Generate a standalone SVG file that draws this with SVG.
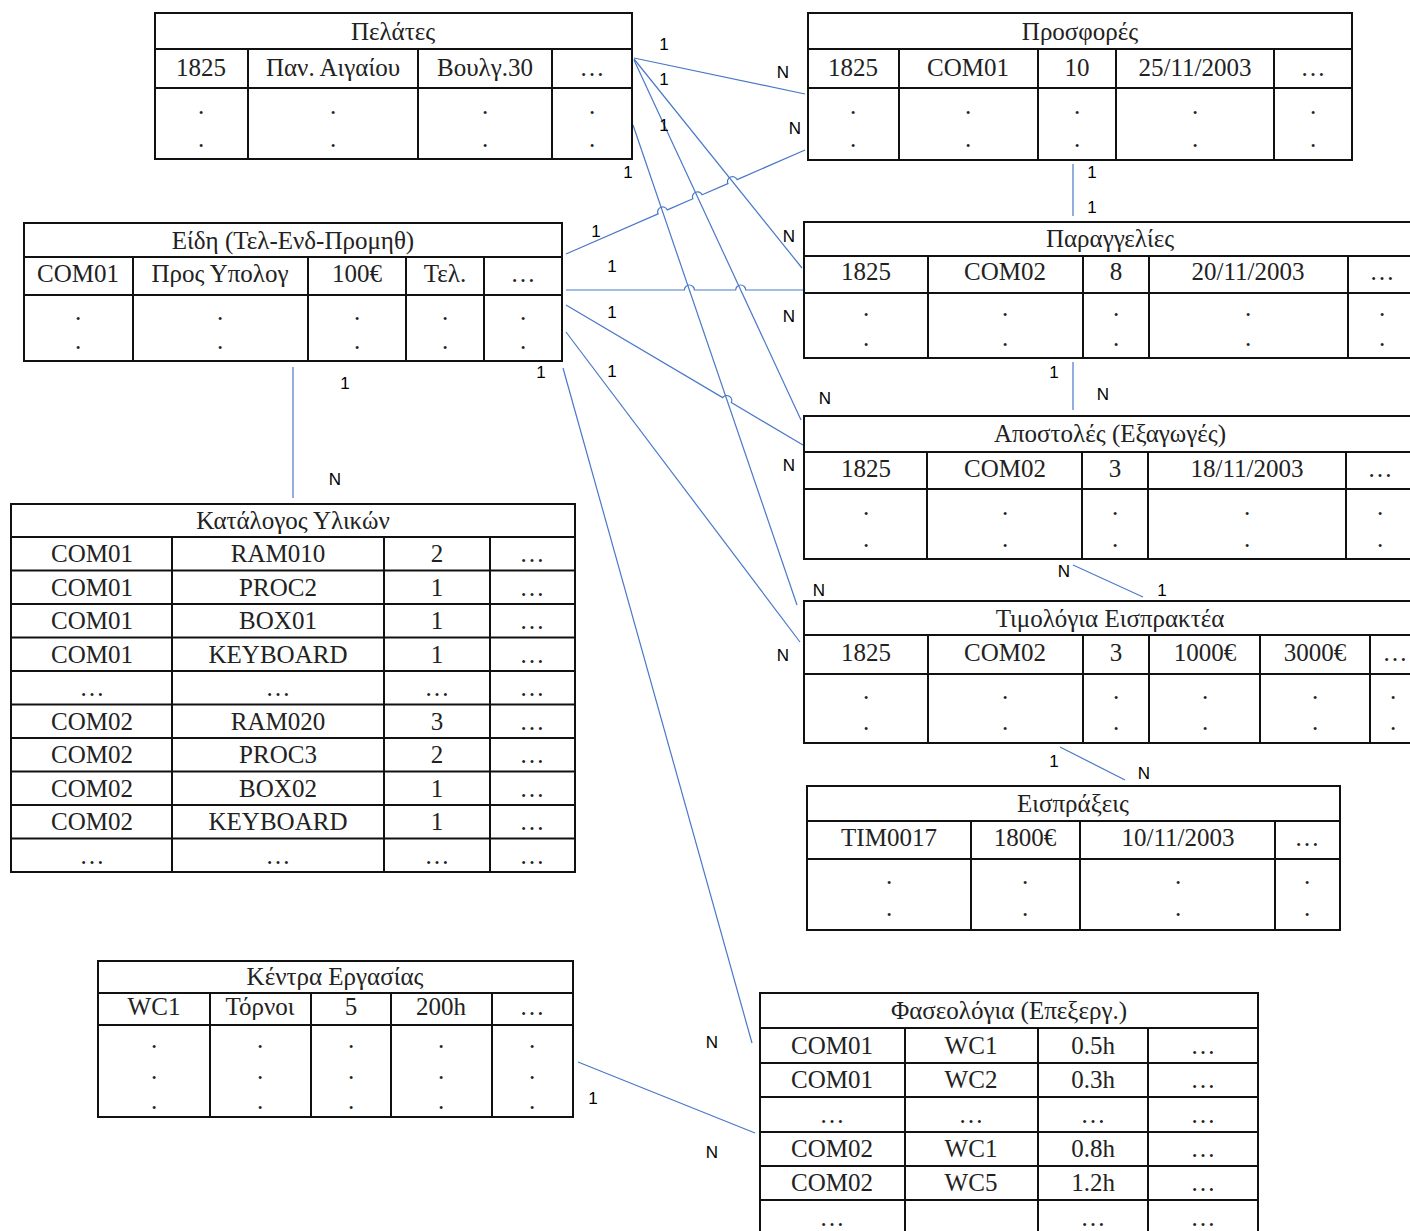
<svg xmlns="http://www.w3.org/2000/svg" width="1410" height="1231" viewBox="0 0 1410 1231">
<style>
.bg{fill:#fff}
.b{fill:none;stroke:#111;stroke-width:2}
.t{font-family:"Liberation Serif","Times New Roman",serif;font-size:25px;text-anchor:middle;fill:#222}
.c{fill:none;stroke:#4a78c8;stroke-width:1.2}
.l{font-family:"Liberation Sans",Arial,sans-serif;font-size:17px;text-anchor:middle;fill:#000}
</style>
<rect class="bg" x="0" y="0" width="1410" height="1231"/>

<g id="connectors">
<path class="c" d="M634,58 L805,94"/>
<path class="c" d="M634,59 L802,268"/>
<path class="c" d="M634,60 L801,420"/>
<path class="c" d="M633,125 L797,605"/>
<path class="c" d="M566,254 L658.1,213.9 A5,5 0 0 1 667.3,209.9 L692.9,198.8 A5,5 0 0 1 702.1,194.8 L727.9,183.6 A5,5 0 0 1 737.1,179.6 L805,150"/>
<path class="c" d="M566,290 L684.4,290 A5,5 0 0 1 694.4,290 L735.7,290 A5,5 0 0 1 745.7,290 L803,290"/>
<path class="c" d="M566,305 L722.7,397.6 A5,5 0 0 1 731.3,402.6 L803,445"/>
<path class="c" d="M566,332 L800,642"/>
<path class="c" d="M563,368 L752,1043"/>
<path class="c" d="M293,367 L293,498"/>
<path class="c" d="M1073,164 L1073,216"/>
<path class="c" d="M1073,362 L1073,410"/>
<path class="c" d="M1073,565 L1143,597"/>
<path class="c" d="M1060,747 L1125,780"/>
<path class="c" d="M578,1062 L755,1133"/>
</g>

<g id="labels">
<text class="l" x="664" y="50">1</text>
<text class="l" x="783" y="78">N</text>
<text class="l" x="664" y="85">1</text>
<text class="l" x="795" y="134">N</text>
<text class="l" x="664" y="131">1</text>
<text class="l" x="628" y="178">1</text>
<text class="l" x="1092" y="178">1</text>
<text class="l" x="1092" y="213">1</text>
<text class="l" x="596" y="237">1</text>
<text class="l" x="789" y="242">N</text>
<text class="l" x="612" y="272">1</text>
<text class="l" x="612" y="318">1</text>
<text class="l" x="789" y="322">N</text>
<text class="l" x="612" y="377">1</text>
<text class="l" x="541" y="378">1</text>
<text class="l" x="1054" y="378">1</text>
<text class="l" x="345" y="389">1</text>
<text class="l" x="1103" y="400">N</text>
<text class="l" x="825" y="404">N</text>
<text class="l" x="789" y="471">N</text>
<text class="l" x="335" y="485">N</text>
<text class="l" x="1064" y="577">N</text>
<text class="l" x="1162" y="596">1</text>
<text class="l" x="819" y="596">N</text>
<text class="l" x="783" y="661">N</text>
<text class="l" x="1054" y="767">1</text>
<text class="l" x="1144" y="779">N</text>
<text class="l" x="712" y="1048">N</text>
<text class="l" x="593" y="1104">1</text>
<text class="l" x="712" y="1158">N</text>
</g>

<g id="pelates">
<rect class="b" x="155" y="13" width="477" height="146"/>
<path class="b" d="M155,49H632M155,88H632M248,49V159M418,49V159M552,49V159"/>
<text class="t" x="393" y="40">Πελάτες</text>
<text class="t" x="201" y="76">1825</text>
<text class="t" x="333" y="76">Παν. Αιγαίου</text>
<text class="t" x="485" y="76">Βουλγ.30</text>
<text class="t" x="592" y="76">…</text>
<text class="t" x="201" y="114">.</text><text class="t" x="333" y="114">.</text><text class="t" x="485" y="114">.</text><text class="t" x="592" y="114">.</text>
<text class="t" x="201" y="147">.</text><text class="t" x="333" y="147">.</text><text class="t" x="485" y="147">.</text><text class="t" x="592" y="147">.</text>
</g>

<g id="prosfores">
<rect class="b" x="808" y="13" width="544" height="147"/>
<path class="b" d="M808,49H1352M808,88H1352M899,49V160M1038,49V160M1116,49V160M1274,49V160"/>
<text class="t" x="1080" y="40">Προσφορές</text>
<text class="t" x="853" y="76">1825</text>
<text class="t" x="968" y="76">COM01</text>
<text class="t" x="1077" y="76">10</text>
<text class="t" x="1195" y="76">25/11/2003</text>
<text class="t" x="1313" y="76">…</text>
<text class="t" x="853" y="114">.</text><text class="t" x="968" y="114">.</text><text class="t" x="1077" y="114">.</text><text class="t" x="1195" y="114">.</text><text class="t" x="1313" y="114">.</text>
<text class="t" x="853" y="147">.</text><text class="t" x="968" y="147">.</text><text class="t" x="1077" y="147">.</text><text class="t" x="1195" y="147">.</text><text class="t" x="1313" y="147">.</text>
</g>

<g id="eidi">
<rect class="b" x="24" y="223" width="538" height="138"/>
<path class="b" d="M24,257H562M24,295H562M133,257V361M308,257V361M406,257V361M484,257V361"/>
<text class="t" x="293" y="249">Είδη (Τελ-Ενδ-Προμηθ)</text>
<text class="t" x="78" y="282">COM01</text>
<text class="t" x="220" y="282">Προς Υπολογ</text>
<text class="t" x="357" y="282">100€</text>
<text class="t" x="445" y="282">Τελ.</text>
<text class="t" x="523" y="282">…</text>
<text class="t" x="78" y="320">.</text><text class="t" x="220" y="320">.</text><text class="t" x="357" y="320">.</text><text class="t" x="445" y="320">.</text><text class="t" x="523" y="320">.</text>
<text class="t" x="78" y="349">.</text><text class="t" x="220" y="349">.</text><text class="t" x="357" y="349">.</text><text class="t" x="445" y="349">.</text><text class="t" x="523" y="349">.</text>
</g>

<g id="paraggelies">
<rect class="b" x="804" y="222" width="612" height="136"/>
<path class="b" d="M804,256H1416M804,293H1416M928,256V358M1083,256V358M1149,256V358M1348,256V358"/>
<text class="t" x="1110" y="247">Παραγγελίες</text>
<text class="t" x="866" y="280">1825</text>
<text class="t" x="1005" y="280">COM02</text>
<text class="t" x="1116" y="280">8</text>
<text class="t" x="1248" y="280">20/11/2003</text>
<text class="t" x="1382" y="280">…</text>
<text class="t" x="866" y="316">.</text><text class="t" x="1005" y="316">.</text><text class="t" x="1116" y="316">.</text><text class="t" x="1248" y="316">.</text><text class="t" x="1382" y="316">.</text>
<text class="t" x="866" y="346">.</text><text class="t" x="1005" y="346">.</text><text class="t" x="1116" y="346">.</text><text class="t" x="1248" y="346">.</text><text class="t" x="1382" y="346">.</text>
</g>

<g id="apostoles">
<rect class="b" x="804" y="416" width="612" height="143"/>
<path class="b" d="M804,452H1416M804,489H1416M927,452V559M1082,452V559M1148,452V559M1346,452V559"/>
<text class="t" x="1110" y="442">Αποστολές (Εξαγωγές)</text>
<text class="t" x="866" y="477">1825</text>
<text class="t" x="1005" y="477">COM02</text>
<text class="t" x="1115" y="477">3</text>
<text class="t" x="1247" y="477">18/11/2003</text>
<text class="t" x="1380" y="477">…</text>
<text class="t" x="866" y="515">.</text><text class="t" x="1005" y="515">.</text><text class="t" x="1115" y="515">.</text><text class="t" x="1247" y="515">.</text><text class="t" x="1380" y="515">.</text>
<text class="t" x="866" y="547">.</text><text class="t" x="1005" y="547">.</text><text class="t" x="1115" y="547">.</text><text class="t" x="1247" y="547">.</text><text class="t" x="1380" y="547">.</text>
</g>

<g id="timologia">
<rect class="b" x="804" y="601" width="616" height="142"/>
<path class="b" d="M804,635H1420M804,674H1420M928,635V743M1083,635V743M1149,635V743M1260,635V743M1370,635V743"/>
<text class="t" x="1110" y="627">Τιμολόγια Εισπρακτέα</text>
<text class="t" x="866" y="661">1825</text>
<text class="t" x="1005" y="661">COM02</text>
<text class="t" x="1116" y="661">3</text>
<text class="t" x="1205" y="661">1000€</text>
<text class="t" x="1315" y="661">3000€</text>
<text class="t" x="1395" y="661">…</text>
<text class="t" x="866" y="699">.</text><text class="t" x="1005" y="699">.</text><text class="t" x="1116" y="699">.</text><text class="t" x="1205" y="699">.</text><text class="t" x="1315" y="699">.</text><text class="t" x="1393" y="699">.</text>
<text class="t" x="866" y="730">.</text><text class="t" x="1005" y="730">.</text><text class="t" x="1116" y="730">.</text><text class="t" x="1205" y="730">.</text><text class="t" x="1315" y="730">.</text><text class="t" x="1393" y="730">.</text>
</g>

<g id="eispraxeis">
<rect class="b" x="807" y="786" width="533" height="144"/>
<path class="b" d="M807,821H1340M807,859H1340M971,821V930M1080,821V930M1275,821V930"/>
<text class="t" x="1073" y="812">Εισπράξεις</text>
<text class="t" x="889" y="846">TIM0017</text>
<text class="t" x="1025" y="846">1800€</text>
<text class="t" x="1178" y="846">10/11/2003</text>
<text class="t" x="1307" y="846">…</text>
<text class="t" x="889" y="884">.</text><text class="t" x="1025" y="884">.</text><text class="t" x="1178" y="884">.</text><text class="t" x="1307" y="884">.</text>
<text class="t" x="889" y="916">.</text><text class="t" x="1025" y="916">.</text><text class="t" x="1178" y="916">.</text><text class="t" x="1307" y="916">.</text>
</g>

<g id="katalogos">
<rect class="b" x="11" y="504" width="564" height="368"/>
<path class="b" d="M11,537H575M11,570.5H575M11,604H575M11,637.5H575M11,671H575M11,704.5H575M11,738H575M11,771.5H575M11,805H575M11,838.5H575M172,537V872M384,537V872M490,537V872"/>
<text class="t" x="293" y="529">Κατάλογος Υλικών</text>
<text class="t" x="92" y="562">COM01</text><text class="t" x="278" y="562">RAM010</text><text class="t" x="437" y="562">2</text><text class="t" x="532" y="562">…</text>
<text class="t" x="92" y="595.5">COM01</text><text class="t" x="278" y="595.5">PROC2</text><text class="t" x="437" y="595.5">1</text><text class="t" x="532" y="595.5">…</text>
<text class="t" x="92" y="629">COM01</text><text class="t" x="278" y="629">BOX01</text><text class="t" x="437" y="629">1</text><text class="t" x="532" y="629">…</text>
<text class="t" x="92" y="662.5">COM01</text><text class="t" x="278" y="662.5">KEYBOARD</text><text class="t" x="437" y="662.5">1</text><text class="t" x="532" y="662.5">…</text>
<text class="t" x="92" y="696">…</text><text class="t" x="278" y="696">…</text><text class="t" x="437" y="696">…</text><text class="t" x="532" y="696">…</text>
<text class="t" x="92" y="729.5">COM02</text><text class="t" x="278" y="729.5">RAM020</text><text class="t" x="437" y="729.5">3</text><text class="t" x="532" y="729.5">…</text>
<text class="t" x="92" y="763">COM02</text><text class="t" x="278" y="763">PROC3</text><text class="t" x="437" y="763">2</text><text class="t" x="532" y="763">…</text>
<text class="t" x="92" y="796.5">COM02</text><text class="t" x="278" y="796.5">BOX02</text><text class="t" x="437" y="796.5">1</text><text class="t" x="532" y="796.5">…</text>
<text class="t" x="92" y="830">COM02</text><text class="t" x="278" y="830">KEYBOARD</text><text class="t" x="437" y="830">1</text><text class="t" x="532" y="830">…</text>
<text class="t" x="92" y="863.5">…</text><text class="t" x="278" y="863.5">…</text><text class="t" x="437" y="863.5">…</text><text class="t" x="532" y="863.5">…</text>
</g>

<g id="kentra">
<rect class="b" x="98" y="961" width="475" height="156"/>
<path class="b" d="M98,993H573M98,1025H573M210,993V1117M311,993V1117M391,993V1117M492,993V1117"/>
<text class="t" x="335" y="985">Κέντρα Εργασίας</text>
<text class="t" x="154" y="1015">WC1</text>
<text class="t" x="260" y="1015">Τόρνοι</text>
<text class="t" x="351" y="1015">5</text>
<text class="t" x="441" y="1015">200h</text>
<text class="t" x="532" y="1015">…</text>
<text class="t" x="154" y="1048">.</text><text class="t" x="260" y="1048">.</text><text class="t" x="351" y="1048">.</text><text class="t" x="441" y="1048">.</text><text class="t" x="532" y="1048">.</text>
<text class="t" x="154" y="1079">.</text><text class="t" x="260" y="1079">.</text><text class="t" x="351" y="1079">.</text><text class="t" x="441" y="1079">.</text><text class="t" x="532" y="1079">.</text>
<text class="t" x="154" y="1109">.</text><text class="t" x="260" y="1109">.</text><text class="t" x="351" y="1109">.</text><text class="t" x="441" y="1109">.</text><text class="t" x="532" y="1109">.</text>
</g>

<g id="faseologia">
<rect class="b" x="760" y="993" width="498" height="250"/>
<path class="b" d="M760,1028H1258M760,1063H1258M760,1097H1258M760,1132H1258M760,1166H1258M760,1200H1258M905,1028V1243M1038,1028V1243M1148,1028V1243"/>
<text class="t" x="1009" y="1019">Φασεολόγια (Επεξεργ.)</text>
<text class="t" x="832" y="1054">COM01</text><text class="t" x="971" y="1054">WC1</text><text class="t" x="1093" y="1054">0.5h</text><text class="t" x="1203" y="1054">…</text>
<text class="t" x="832" y="1088">COM01</text><text class="t" x="971" y="1088">WC2</text><text class="t" x="1093" y="1088">0.3h</text><text class="t" x="1203" y="1088">…</text>
<text class="t" x="832" y="1123">…</text><text class="t" x="971" y="1123">…</text><text class="t" x="1093" y="1123">…</text><text class="t" x="1203" y="1123">…</text>
<text class="t" x="832" y="1157">COM02</text><text class="t" x="971" y="1157">WC1</text><text class="t" x="1093" y="1157">0.8h</text><text class="t" x="1203" y="1157">…</text>
<text class="t" x="832" y="1191">COM02</text><text class="t" x="971" y="1191">WC5</text><text class="t" x="1093" y="1191">1.2h</text><text class="t" x="1203" y="1191">…</text>
<text class="t" x="832" y="1226">…</text><text class="t" x="1093" y="1226">…</text><text class="t" x="1203" y="1226">…</text>
</g>
</svg>
